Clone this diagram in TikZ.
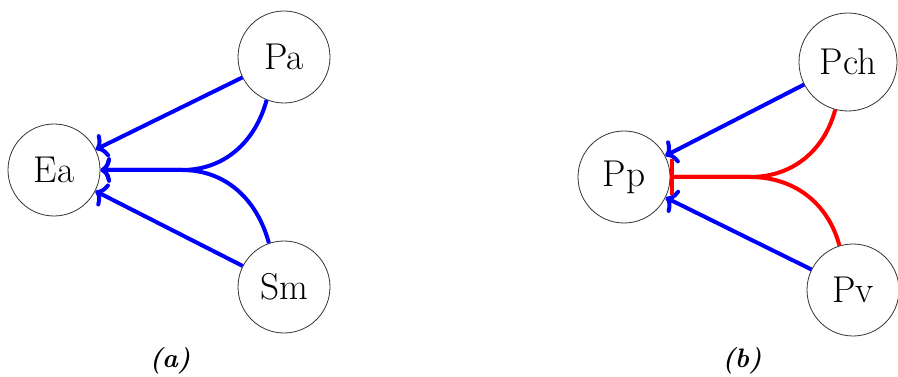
\documentclass[tikz,border=0pt]{standalone}
\usetikzlibrary{arrows.meta}
\begin{document}
\begin{tikzpicture}[x=0.75pt,y=-0.75pt,
  state/.style={circle,draw=black!80,line width=0.6pt,inner sep=0pt,minimum size=69pt,font=\fontsize{28}{32}\selectfont},
  act/.style={draw=blue,line width=3pt,-{To[length=8pt,width=19pt]}},
  inh/.style={draw=red,line width=3pt,-{Bar[width=27pt]}},
  caplabel/.style={font=\fontsize{20}{24}\selectfont\bfseries\itshape}]
\useasboundingbox (0,0) rectangle (898,377);
% (a)
\node[state] (Ea) at (54,170) {Ea};
\node[state] (Pa) at (284,57) {Pa};
\node[state] (Sm) at (284,287) {Sm};
\coordinate (ja) at (182,170);
\draw[act] (Pa) -- (Ea);
\draw[act] (Sm) -- (Ea);
\draw[act] (Pa.-112) to[out=-105,in=0] (ja) -- (Ea.east);
\draw[act] (Sm.109) to[out=105,in=0] (ja) -- (Ea.east);
\node[caplabel] (la) at (170,361) {(a)};
% (b)
\node[state] (Pp) at (624,177) {Pp};
\node[state,minimum size=73.5pt] (Pch) at (848,62) {Pch};
\node[state] (Pv) at (853,290) {Pv};
\coordinate (jb) at (750,177);
\draw[act] (Pch) -- (Pp);
\draw[act] (Pv) -- (Pp);
\draw[inh] (Pch.-105) to[out=-105,in=0] (jb) -- (Pp.east);
\draw[inh] (Pv.107) to[out=105,in=0] (jb) -- (Pp.east);
\node[caplabel] (lb) at (742,361) {(b)};
\end{tikzpicture}
\end{document}
